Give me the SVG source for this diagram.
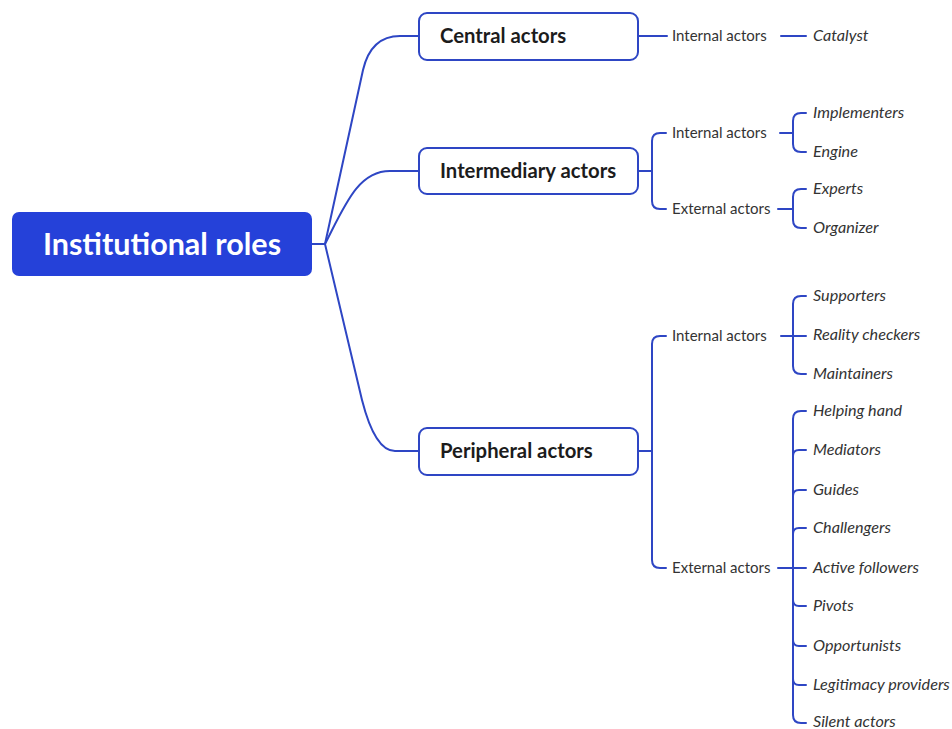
<svg xmlns="http://www.w3.org/2000/svg" width="952" height="729" viewBox="0 0 952 729">
<style>
.ln{fill:none;stroke:#2E46C4;stroke-width:2;stroke-linecap:round;stroke-linejoin:round}
.box{fill:#fff;stroke:#2E46C4;stroke-width:2}
.t1{font-family:Lato,"Liberation Sans",sans-serif;font-size:20.3px;font-weight:bold;fill:#1c1c1c}
.t2{font-family:Lato,"Liberation Sans",sans-serif;font-size:15px;fill:#333}
.t3{font-family:Lato,"Liberation Sans",sans-serif;font-size:16.2px;font-style:italic;fill:#333}
</style>
<rect width="952" height="729" fill="#fff"/>
<g id="connectors">
<path class="ln" d="M312,244 H325 L363,70 Q371,36 400,36 H419"/>
<path class="ln" d="M325,244 C345,205 358,171 390,171 H419"/>
<path class="ln" d="M325,244 L362,400 Q375,451 395,451 H419"/>
<path class="ln" d="M638,36 H667"/>
<path class="ln" d="M781,36 H806"/>
<path class="ln" d="M638,171 H652 M666,133 H660 Q652,133 652,141 V201 Q652,209 660,209 H666"/>
<path class="ln" d="M780,133 H793 M806,113 H801 Q793,113 793,121 V144 Q793,152 801,152 H806"/>
<path class="ln" d="M778,209 H793 M806,189 H801 Q793,189 793,197 V220 Q793,228 801,228 H806"/>
<path class="ln" d="M638,451 H652 M666,336 H660 Q652,336 652,344 V560 Q652,568 660,568 H666"/>
<path class="ln" d="M781,336 H806 M806,296 H801 Q793,296 793,304 V366 Q793,374 801,374 H806"/>
<path class="ln" d="M778,568 H806 M806,411 H801 Q793,411 793,419 V715 Q793,723 801,723 H806"/>
<path class="ln" d="M793,456 Q793,450 799,450 H806 M793,496 Q793,490 799,490 H806 M793,534 Q793,528 799,528 H806 M793,600 Q793,606 799,606 H806 M793,640 Q793,646 799,646 H806 M793,679 Q793,685 799,685 H806"/>
</g>
<g id="root">
<rect x="12" y="212" width="300" height="64" rx="7" fill="#2541D9"/>
<text x="162" y="255" text-anchor="middle" font-family="Lato,'Liberation Sans',sans-serif" font-size="30.5" font-weight="bold" fill="#fff">Institutional roles</text>
</g>
<g id="central">
<rect class="box" x="419" y="13" width="219" height="47" rx="8"/>
<text class="t1" x="440" y="43">Central actors</text>
</g>
<g id="intermediary">
<rect class="box" x="419" y="148" width="219" height="46" rx="8"/>
<text class="t1" x="440" y="178">Intermediary actors</text>
</g>
<g id="peripheral">
<rect class="box" x="419" y="428" width="219" height="47" rx="8"/>
<text class="t1" x="440" y="458">Peripheral actors</text>
</g>
<g id="c-internal"><text class="t2" x="672" y="41">Internal actors</text></g>
<g id="catalyst"><text class="t3" x="813" y="41">Catalyst</text></g>
<g id="i-internal"><text class="t2" x="672" y="138">Internal actors</text></g>
<g id="i-external"><text class="t2" x="672" y="214">External actors</text></g>
<g id="implementers"><text class="t3" x="813" y="118">Implementers</text></g>
<g id="engine"><text class="t3" x="813" y="157">Engine</text></g>
<g id="experts"><text class="t3" x="813" y="194">Experts</text></g>
<g id="organizer"><text class="t3" x="813" y="233">Organizer</text></g>
<g id="p-internal"><text class="t2" x="672" y="341">Internal actors</text></g>
<g id="p-external"><text class="t2" x="672" y="573">External actors</text></g>
<g id="supporters"><text class="t3" x="813" y="301">Supporters</text></g>
<g id="reality"><text class="t3" x="813" y="340">Reality checkers</text></g>
<g id="maintainers"><text class="t3" x="813" y="379">Maintainers</text></g>
<g id="helping"><text class="t3" x="813" y="416">Helping hand</text></g>
<g id="mediators"><text class="t3" x="813" y="455">Mediators</text></g>
<g id="guides"><text class="t3" x="813" y="495">Guides</text></g>
<g id="challengers"><text class="t3" x="813" y="533">Challengers</text></g>
<g id="active"><text class="t3" x="813" y="573">Active followers</text></g>
<g id="pivots"><text class="t3" x="813" y="611">Pivots</text></g>
<g id="opportunists"><text class="t3" x="813" y="651">Opportunists</text></g>
<g id="legitimacy"><text class="t3" x="813" y="690">Legitimacy providers</text></g>
<g id="silent"><text class="t3" x="813" y="727">Silent actors</text></g>
</svg>
